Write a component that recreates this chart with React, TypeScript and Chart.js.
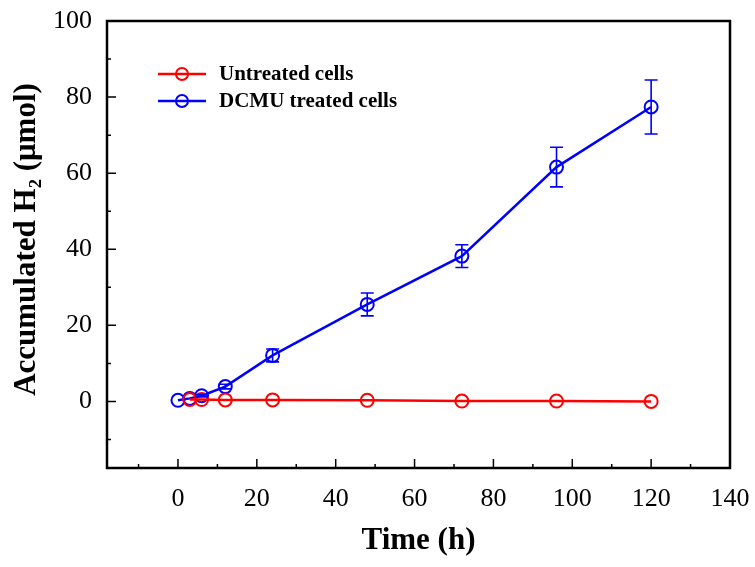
import React, { useEffect, useRef } from "react";
import { Chart, registerables } from "chart.js";

Chart.register(...registerables);

// ---- Data ----
const dcmuTimeH = [0, 3, 6, 12, 24, 48, 72, 96, 120];
const dcmuH2 = [0.3, 0.8, 1.5, 3.9, 12.1, 25.5, 38.2, 61.6, 77.4];
const dcmuErr = [0, 0, 0.3, 0.6, 1.7, 3.0, 3.0, 5.2, 7.1];
const untreatedTimeH = [3, 6, 12, 24, 48, 72, 96, 120];
const untreatedH2 = [0.5, 0.5, 0.4, 0.4, 0.3, 0.1, 0.1, 0.0];
const seriesLabels = ["Untreated cells", "DCMU treated cells"];
const seriesColors = ["#ff0000", "#0000ff"];
const xTickValues = [0, 20, 40, 60, 80, 100, 120, 140];
const yTickValues = [0, 20, 40, 60, 80, 100];
const xMinorTicks = [-10, 10, 30, 50, 70, 90, 110, 130];
const yMinorTicks = [-10, 10, 30, 50, 70, 90];
const xTitle = "Time (h)";
const yTitle = "Accumulated H\u2082 (\u03bcmol)";

const FONT = "'Liberation Serif', 'Times New Roman', serif";

const errorBarPlugin = {
  id: "errorBars",
  afterDatasetsDraw(chart: any) {
    const { ctx } = chart;
    const xs = chart.scales.x;
    const ys = chart.scales.y;
    ctx.save();
    ctx.strokeStyle = seriesColors[1];
    ctx.lineWidth = 1.6;
    dcmuTimeH.forEach((t, i) => {
      const e = dcmuErr[i];
      if (!e) return;
      const x = xs.getPixelForValue(t);
      const y1 = ys.getPixelForValue(dcmuH2[i] + e);
      const y2 = ys.getPixelForValue(dcmuH2[i] - e);
      const cap = 6.5;
      ctx.beginPath();
      ctx.moveTo(x, y1);
      ctx.lineTo(x, y2);
      ctx.moveTo(x - cap, y1);
      ctx.lineTo(x + cap, y1);
      ctx.moveTo(x - cap, y2);
      ctx.lineTo(x + cap, y2);
      ctx.stroke();
    });
    ctx.restore();
  },
};

const framePlugin = {
  id: "frameTicks",
  afterDraw(chart: any) {
    const { ctx, chartArea } = chart;
    const xs = chart.scales.x;
    const ys = chart.scales.y;
    ctx.save();
    ctx.strokeStyle = "#000";
    ctx.lineWidth = 2.5;
    ctx.strokeRect(
      chartArea.left,
      chartArea.top,
      chartArea.right - chartArea.left,
      chartArea.bottom - chartArea.top
    );
    ctx.lineWidth = 1.5;
    ctx.beginPath();
    const drawX = (v: number, len: number) => {
      if (v < xs.min || v > xs.max) return;
      const x = xs.getPixelForValue(v);
      ctx.moveTo(x, chartArea.bottom);
      ctx.lineTo(x, chartArea.bottom - len);
    };
    const drawY = (v: number, len: number) => {
      if (v < ys.min || v > ys.max) return;
      const y = ys.getPixelForValue(v);
      ctx.moveTo(chartArea.left, y);
      ctx.lineTo(chartArea.left + len, y);
    };
    xTickValues.forEach((v) => drawX(v, 9));
    xMinorTicks.forEach((v) => drawX(v, 4));
    yTickValues.forEach((v) => drawY(v, 9));
    yMinorTicks.forEach((v) => drawY(v, 4));
    ctx.stroke();

    // Y axis title (rotated)
    ctx.save();
    ctx.translate(27, (chartArea.top + chartArea.bottom) / 2 - 5);
    ctx.rotate(-Math.PI / 2);
    ctx.fillStyle = "#000";
    ctx.font = `bold 31px ${FONT}`;
    ctx.textAlign = "center";
    ctx.textBaseline = "middle";
    ctx.fillText(yTitle, 0, 0);
    ctx.restore();
    ctx.restore();
  },
};

const legendPlugin = {
  id: "insideLegend",
  afterDraw(chart: any) {
    const { ctx, chartArea } = chart;
    ctx.save();
    chart.data.datasets.forEach((ds: any, i: number) => {
      const y = chartArea.top + 53 + i * 27;
      const x0 = chartArea.left + 51;
      const x1 = x0 + 48;
      const cx = (x0 + x1) / 2;
      ctx.strokeStyle = ds.borderColor;
      ctx.lineWidth = 2.5;
      ctx.beginPath();
      ctx.moveTo(x0, y);
      ctx.lineTo(x1, y);
      ctx.stroke();
      ctx.lineWidth = 2;
      ctx.beginPath();
      ctx.arc(cx, y, 6, 0, Math.PI * 2);
      ctx.stroke();
      ctx.fillStyle = "#000";
      ctx.font = `bold 21px ${FONT}`;
      ctx.textAlign = "left";
      ctx.textBaseline = "middle";
      ctx.fillText(ds.label, x1 + 13, y + 1);
    });
    ctx.restore();
  },
};

export default function App() {
  const canvasRef = useRef<HTMLCanvasElement | null>(null);

  useEffect(() => {
    if (!canvasRef.current) return;
    const mk = (xs: number[], ys: number[]) => xs.map((x, i) => ({ x, y: ys[i] }));
    const common = {
      showLine: true,
      borderWidth: 2.5,
      pointRadius: 6.5,
      pointBorderWidth: 2,
      pointBackgroundColor: "rgba(0,0,0,0)",
      backgroundColor: "rgba(0,0,0,0)",
      tension: 0,
      fill: false,
      clip: false as any,
    };
    const chart = new Chart(canvasRef.current, {
      type: "line",
      data: {
        datasets: [
          {
            ...common,
            label: seriesLabels[0],
            data: mk(untreatedTimeH, untreatedH2),
            borderColor: seriesColors[0],
            pointBorderColor: seriesColors[0],
          },
          {
            ...common,
            label: seriesLabels[1],
            data: mk(dcmuTimeH, dcmuH2),
            borderColor: seriesColors[1],
            pointBorderColor: seriesColors[1],
          },
        ],
      },
      options: {
        responsive: false,
        animation: false,
        layout: { padding: { top: 21, right: 25, left: 0, bottom: 0 } },
        plugins: {
          legend: { display: false },
          tooltip: { enabled: false },
        },
        scales: {
          x: {
            type: "linear",
            position: "bottom",
            min: -18,
            max: 140,
            afterBuildTicks: (s: any) => {
              s.ticks = xTickValues.map((v) => ({ value: v }));
            },
            afterFit: (s: any) => {
              s.height = 99;
              s.paddingLeft = 0;
              s.paddingRight = 0;
            },
            grid: { display: false, drawTicks: false },
            border: { display: false },
            ticks: {
              font: { family: FONT, size: 26 },
              color: "#000",
              padding: 16,
              maxRotation: 0,
              autoSkip: false,
            },
            title: {
              display: true,
              text: xTitle,
              color: "#000",
              font: { family: FONT, size: 31, weight: "bold" },
              padding: { top: 0, bottom: 7 },
            },
          },
          y: {
            type: "linear",
            min: -17.5,
            max: 100,
            afterBuildTicks: (s: any) => {
              s.ticks = yTickValues.map((v) => ({ value: v }));
            },
            afterFit: (s: any) => {
              s.width = 107;
              s.paddingTop = 0;
              s.paddingBottom = 0;
            },
            grid: { display: false, drawTicks: false },
            border: { display: false },
            ticks: {
              font: { family: FONT, size: 26 },
              color: "#000",
              padding: 15,
              autoSkip: false,
            },
            title: { display: false },
          },
        },
      } as any,
      plugins: [errorBarPlugin, framePlugin, legendPlugin],
    });
    return () => chart.destroy();
  }, []);

  return (
    <div style={{ position: "absolute", left: 0, top: 0, width: 755, height: 567, background: "#fff" }}>
      <canvas ref={canvasRef} width={755} height={567} style={{ display: "block" }} />
    </div>
  );
}
